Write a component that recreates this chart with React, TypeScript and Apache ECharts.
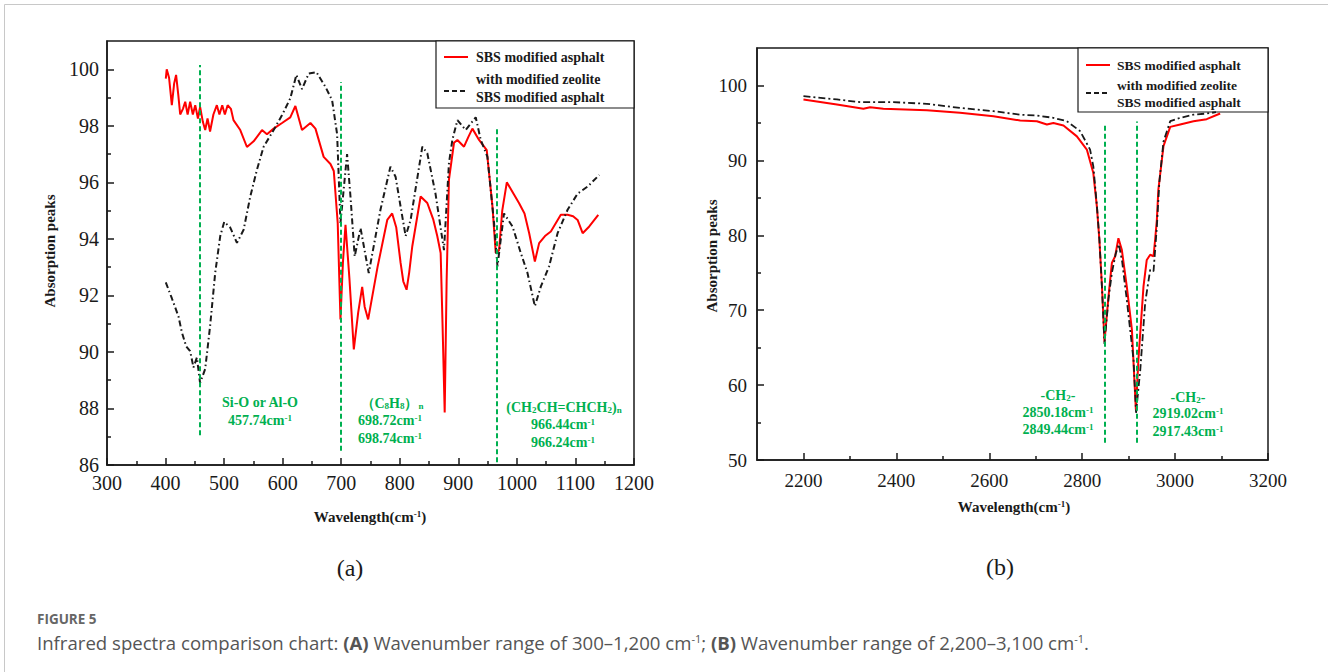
import React, { useEffect, useRef } from 'react';
import * as echarts from 'echarts';

// ---------- data ----------
const NAME_A = 'SBS modified asphalt';
const NAME_B = 'with modified zeolite SBS modified asphalt';

// (a) 300–1200 cm-1
const LEFT_RED: [number, number][] = [
  [400.4, 99.67], [402, 100.0], [406, 99.7], [410.7, 98.73], [414.7, 99.5], [418, 99.8], [421.7, 99.1],
  [425, 98.4], [429.7, 98.6], [433.6, 98.85], [437.7, 98.4], [442, 98.85], [446.6, 98.4], [450.7, 98.73],
  [455.3, 98.26], [459, 98.67], [463.7, 98.14], [467.7, 97.85], [471.7, 98.26], [476, 97.8], [481.7, 98.4],
  [487.6, 98.73], [492, 98.4], [496.8, 98.73], [501.3, 98.4], [506, 98.73], [511.6, 98.6], [516, 98.2],
  [527.6, 97.85], [539, 97.25], [550.4, 97.45], [564.7, 97.85], [573.2, 97.7], [584.6, 97.9], [598.9, 98.1],
  [613, 98.3], [621.7, 98.7], [633, 97.85], [647.4, 98.1], [656, 97.9], [670, 96.9], [681.6, 96.65],
  [687.3, 96.4], [694, 94.56], [698.7, 91.15], [703, 93.2], [707.3, 94.5], [714, 92.6], [721.5, 90.09],
  [729, 91.4], [735.8, 92.3], [740, 91.6], [746, 91.15], [762, 93.0], [778.6, 94.67], [787, 94.9],
  [794, 94.4], [801.4, 93.15], [806, 92.5], [811.6, 92.2], [816, 92.8], [821.3, 93.73], [835.6, 95.5],
  [847, 95.27], [857, 94.7], [864, 94.1], [869.8, 93.5], [873, 91.0], [876.7, 87.86], [880, 92.5],
  [884, 96.1], [892.6, 97.4], [898.4, 97.5], [909.7, 97.26], [917, 97.6], [924, 97.9], [935.4, 97.5],
  [948.5, 97.14], [958.3, 95.14], [963.9, 93.5], [969.6, 93.6], [975, 95.0], [982.8, 96.0], [995.3, 95.56],
  [1003.8, 95.26], [1013, 94.9], [1021, 94.2], [1030.7, 93.2], [1038, 93.85], [1048, 94.1], [1058, 94.26],
  [1075, 94.85], [1086.6, 94.85], [1096, 94.8], [1103.7, 94.67], [1112.3, 94.2], [1123.6, 94.44], [1139, 94.85],
];

const LEFT_BLACK: [number, number][] = [
  [400.4, 92.46], [410.7, 91.9], [422, 91.26], [427.8, 90.7], [435.2, 90.2], [442, 90.03], [447.7, 89.45],
  [453.5, 89.8], [459, 88.9], [467.7, 89.4], [476, 90.9], [484.8, 92.8], [493.4, 94.1], [500.2, 94.6],
  [510.5, 94.4], [521.9, 93.86], [533.3, 94.32], [544.7, 95.5], [556, 96.44], [567.5, 97.26], [584.6, 97.85],
  [599, 98.38], [613, 98.97], [623.4, 99.8], [633, 99.3], [644.5, 99.85], [657.6, 99.9], [673, 99.38],
  [684.5, 98.9], [693, 97.7], [698.7, 94.56], [710, 97.0], [715.8, 95.5], [723, 93.38], [733, 94.38],
  [747, 92.79], [767, 95.03], [784, 96.55], [792.8, 96.2], [801.4, 95.14], [810, 94.1], [818.5, 94.67],
  [838.5, 97.26], [847, 97.03], [861, 95.6], [875.5, 93.6], [884, 96.68], [889.8, 97.5], [898.4, 98.2],
  [912.6, 97.85], [929.7, 98.3], [938.3, 97.5], [949.7, 96.9], [961, 94.56], [966.8, 93.03], [978, 94.9],
  [992.5, 94.44], [1006.7, 93.5], [1018, 92.8], [1030.7, 91.62], [1041, 92.32], [1055, 93.03], [1069.5, 94.2],
  [1086.6, 95.03], [1103.7, 95.6], [1120.8, 95.85], [1140.7, 96.26],
];

// (b) 2200–3100 cm-1
const RIGHT_RED: [number, number][] = [
  [2200, 98.13], [2272, 97.46], [2329, 96.88], [2343.6, 97.1], [2372, 96.88], [2465.6, 96.7], [2537, 96.35],
  [2609, 95.9], [2666.5, 95.32], [2702.5, 95.23], [2724, 94.79], [2738, 95.0], [2759.7, 94.65], [2788.6, 93.2],
  [2810, 91.44], [2824, 88.3], [2831.6, 83.86], [2837, 79.4], [2842.6, 73.17], [2848, 65.8], [2856.6, 71.8],
  [2863.9, 76.3], [2871, 77.2], [2878, 79.6], [2885.3, 78.07], [2896, 73.17], [2907, 67.4], [2915.6, 56.7],
  [2921, 63.37], [2932, 73.17], [2939, 76.7], [2946.4, 77.4], [2953.6, 77.2], [2957, 79.4], [2960.8, 82.1],
  [2964, 86.1], [2975, 91.9], [2989.5, 94.47], [3011, 94.8], [3039.6, 95.23], [3068, 95.5], [3097, 96.25],
];

const RIGHT_BLACK: [number, number][] = [
  [2200, 98.57], [2272, 98.13], [2322, 97.77], [2393.6, 97.77], [2465.6, 97.55], [2537, 97.0], [2609, 96.57],
  [2666.5, 96.1], [2702.5, 95.99], [2738, 95.68], [2767, 95.23], [2795.6, 93.9], [2817, 91.44], [2824, 89.2],
  [2831.6, 84.0], [2837, 79.5], [2842.6, 73.0], [2848, 65.5], [2856.6, 71.5], [2864, 75.0], [2872, 77.5],
  [2879, 78.8], [2886, 76.5], [2896, 71.4], [2910.5, 63.4], [2916, 56.3], [2925, 62.0], [2935.6, 71.0],
  [2946.4, 75.4], [2953.6, 75.2], [2960.8, 81.2], [2966, 87.0], [2975, 92.5], [2989.5, 95.23], [3011, 95.68],
  [3039.6, 96.1], [3068, 96.25], [3088, 96.43],
];

// axis ticks
const LEFT_X_LABELS = [300, 400, 500, 600, 700, 800, 900, 1000, 1100, 1200];
const LEFT_X_MINOR = [350, 450, 550, 650, 750, 850, 950, 1050, 1150];
const LEFT_Y_LABELS = [86, 88, 90, 92, 94, 96, 98, 100];
const LEFT_Y_MINOR = [87, 89, 91, 93, 95, 97, 99];
const RIGHT_X_LABELS = [2200, 2400, 2600, 2800, 3000, 3200];
const RIGHT_X_MINOR = [2300, 2500, 2700, 2900, 3100];
const RIGHT_Y_LABELS = [50, 60, 70, 80, 90, 100];
const RIGHT_Y_MINOR = [55, 65, 75, 85, 95];

// characteristic peak marker lines: [wavenumber, from, to]
const LEFT_MARKERS: [number, number, number][] = [
  [457.74, 87.05, 100.15], [698.72, 86.5, 99.55], [966.44, 86.1, 97.95],
];
const RIGHT_MARKERS: [number, number, number][] = [
  [2849.44, 52.3, 95.0], [2917.43, 52.3, 95.2],
];

// ---------- styles ----------
const SERIF = 'Liberation Serif';
const SANS = 'Open Sans';
const INK = '#1a1a1a';
const RED = '#ff0000';
const GREEN = '#00b050';

const axisLineStyle = { color: INK, width: 1.5 };

function majorAxis(grid: number, min: number, max: number, interval: number, labels: number[], pos: string, size: number, margin: number) {
  return {
    gridIndex: grid, type: 'value', min, max, interval, position: pos,
    axisLine: { show: true, onZero: false, lineStyle: axisLineStyle },
    axisTick: { show: true, inside: true, length: 7, customValues: labels, lineStyle: axisLineStyle },
    axisLabel: {
      margin, fontFamily: SERIF, fontSize: size, color: INK, showMaxLabel: labels.includes(max),
      formatter: (v: number) => (labels.includes(v) ? String(v) : ''),
    },
    splitLine: { show: false },
  };
}
function minorAxis(grid: number, min: number, max: number, ticks: number[], pos: string) {
  return {
    gridIndex: grid, type: 'value', min, max, position: pos,
    axisLine: { show: false, onZero: false },
    axisTick: { show: true, inside: true, length: 4, customValues: ticks, lineStyle: axisLineStyle },
    axisLabel: { show: false },
    splitLine: { show: false },
  };
}

function markers(list: [number, number, number][]) {
  return {
    silent: true,
    symbol: ['none', 'none'],
    label: { show: false },
    lineStyle: { color: GREEN, type: [5, 3], width: 2 },
    data: list.map(([x, a, b]) => [{ coord: [x, a] }, { coord: [x, b] }]),
  };
}

type Tok = [string, string];
const rt = (toks: Tok[]) => toks.map(([k, s]) => `{${k}|${s}}`).join('');
const annRich = {
  t: { fontSize: 14, fontWeight: 'bold', fontFamily: SERIF, fill: GREEN },
  s: { fontSize: 9, fontWeight: 'bold', fontFamily: SERIF, fill: GREEN, verticalAlign: 'top' },
  d: { fontSize: 9, fontWeight: 'bold', fontFamily: SERIF, fill: GREEN, verticalAlign: 'bottom' },
};
function ann(x: number, y: number, toks: Tok[]) {
  return {
    type: 'text', x, y, z: 50,
    style: { text: rt(toks), rich: annRich, align: 'center', verticalAlign: 'middle' },
  };
}
function txt(x: number, y: number, text: string, font: any, extra: any = {}) {
  return { type: 'text', x, y, z: 50, ...extra, style: { text, align: 'center', verticalAlign: 'middle', fill: INK, ...font } };
}

function legend(x: number, y: number, w: number, h: number, size: number, rows: number[], iconY: number[], textX: number) {
  const font = { fontFamily: SERIF, fontWeight: 'bold', fontSize: size, fill: INK };
  return {
    type: 'group', z: 60,
    children: [
      { type: 'rect', shape: { x, y, width: w, height: h }, style: { fill: '#fff', stroke: INK, lineWidth: 1.2 } },
      { type: 'line', shape: { x1: x + 8, y1: iconY[0], x2: x + 32, y2: iconY[0] }, style: { stroke: RED, lineWidth: 2 } },
      { type: 'line', shape: { x1: x + 8, y1: iconY[1], x2: x + 31, y2: iconY[1] }, style: { stroke: INK, lineWidth: 2, lineDash: [5, 3] } },
      { type: 'text', x: textX, y: rows[0], style: { text: 'SBS modified asphalt', verticalAlign: 'middle', ...font } },
      { type: 'text', x: textX, y: rows[1], style: { text: 'with modified zeolite', verticalAlign: 'middle', ...font } },
      { type: 'text', x: textX, y: rows[2], style: { text: 'SBS modified asphalt', verticalAlign: 'middle', ...font } },
    ],
  };
}

export default function App() {
  const ref = useRef<HTMLDivElement>(null);
  useEffect(() => {
    if (!ref.current) return;
    const chart = echarts.init(ref.current, null, { renderer: 'svg' });
    const axisTitle = { fontFamily: SERIF, fontWeight: 'bold', fontSize: 15 };
    const capRich = {
      n: { fontSize: 18.6, fontFamily: SANS, fill: '#555' },
      b: { fontSize: 18.6, fontFamily: SANS, fill: '#555', fontWeight: 'bold' },
      s: { fontSize: 11, fontFamily: SANS, fill: '#555', verticalAlign: 'top' },
    };
    chart.setOption({
      animation: false,
      backgroundColor: '#fff',
      textStyle: { fontFamily: SERIF },
      grid: [
        { left: 107, top: 41, width: 527, height: 424, show: true, borderColor: INK, borderWidth: 1.5 },
        { left: 757, top: 48, width: 511, height: 412, show: true, borderColor: INK, borderWidth: 1.5 },
      ],
      xAxis: [
        majorAxis(0, 300, 1200, 100, LEFT_X_LABELS, 'bottom', 20, 8),
        minorAxis(0, 300, 1200, LEFT_X_MINOR, 'bottom'),
        majorAxis(1, 2100, 3200, 100, RIGHT_X_LABELS, 'bottom', 19, 11),
        minorAxis(1, 2100, 3200, RIGHT_X_MINOR, 'bottom'),
      ],
      yAxis: [
        majorAxis(0, 86, 101, 2, LEFT_Y_LABELS, 'left', 20, 8),
        minorAxis(0, 86, 101, LEFT_Y_MINOR, 'left'),
        majorAxis(1, 50, 105, 10, RIGHT_Y_LABELS, 'left', 19, 10),
        minorAxis(1, 50, 105, RIGHT_Y_MINOR, 'left'),
      ],
      series: [
        {
          type: 'line', name: NAME_A, xAxisIndex: 0, yAxisIndex: 0, data: LEFT_RED, showSymbol: false, symbol: 'none',
          lineStyle: { color: RED, width: 2 }, itemStyle: { color: RED }, markLine: markers(LEFT_MARKERS),
        },
        {
          type: 'line', name: NAME_B, xAxisIndex: 0, yAxisIndex: 0, data: LEFT_BLACK, showSymbol: false, symbol: 'none',
          lineStyle: { color: INK, width: 2, type: [6, 3, 1.5, 3] }, itemStyle: { color: INK },
        },
        {
          type: 'line', name: NAME_A, xAxisIndex: 2, yAxisIndex: 2, data: RIGHT_RED, showSymbol: false, symbol: 'none',
          lineStyle: { color: RED, width: 2 }, itemStyle: { color: RED }, markLine: markers(RIGHT_MARKERS),
        },
        {
          type: 'line', name: NAME_B, xAxisIndex: 2, yAxisIndex: 2, data: RIGHT_BLACK, showSymbol: false, symbol: 'none',
          lineStyle: { color: INK, width: 1.8, type: [7, 3, 2, 3] }, itemStyle: { color: INK },
        },
      ],
      graphic: [
        { type: 'rect', z: 0, shape: { x: 4.5, y: 4.5, width: 1400, height: 700 }, style: { fill: 'none', stroke: '#c8c8c8', lineWidth: 1 } },
        legend(436, 41, 198, 67, 14, [57, 79, 97], [57, 91], 476),
        legend(1078, 48, 190, 64, 13.5, [65, 85, 102], [65, 93], 1117),
        // annotations (a)
        ann(260, 402, [['t', 'Si-O or Al-O']]),
        ann(260, 420, [['t', '457.74cm'], ['s', '-1']]),
        ann(392, 403, [['t', '（C'], ['d', '8'], ['t', 'H'], ['d', '8'], ['t', '）'], ['d', 'n']]),
        ann(390, 420, [['t', '698.72cm'], ['s', '-1']]),
        ann(390, 438, [['t', '698.74cm'], ['s', '-1']]),
        ann(564, 407, [['t', '(CH'], ['d', '2'], ['t', 'CH=CHCH'], ['d', '2'], ['t', ')'], ['d', 'n']]),
        ann(563, 424, [['t', '966.44cm'], ['s', '-1']]),
        ann(563, 442, [['t', '966.24cm'], ['s', '-1']]),
        // annotations (b)
        ann(1058, 395, [['t', '-CH'], ['d', '2'], ['t', '-']]),
        ann(1058, 412, [['t', '2850.18cm'], ['s', '-1']]),
        ann(1058, 429, [['t', '2849.44cm'], ['s', '-1']]),
        ann(1188, 397, [['t', '-CH'], ['d', '2'], ['t', '-']]),
        ann(1188, 413, [['t', '2919.02cm'], ['s', '-1']]),
        ann(1188, 431, [['t', '2917.43cm'], ['s', '-1']]),
        // axis titles
        txt(50, 251, 'Absorption peaks', axisTitle, { rotation: Math.PI / 2 }),
        txt(712, 256, 'Absorption peaks', axisTitle, { rotation: Math.PI / 2 }),
        {
          type: 'text', x: 370, y: 517, z: 50,
          style: { text: '{t|Wavelength(cm}{s|-1}{t|)}', align: 'center', verticalAlign: 'middle',
            rich: { t: { ...axisTitle, fill: INK }, s: { fontFamily: SERIF, fontWeight: 'bold', fontSize: 9, fill: INK, verticalAlign: 'top' } } },
        },
        {
          type: 'text', x: 1014, y: 507, z: 50,
          style: { text: '{t|Wavelength(cm}{s|-1}{t|)}', align: 'center', verticalAlign: 'middle',
            rich: { t: { ...axisTitle, fill: INK }, s: { fontFamily: SERIF, fontWeight: 'bold', fontSize: 9, fill: INK, verticalAlign: 'top' } } },
        },
        // panel letters
        txt(350, 568, '(a)', { fontFamily: SERIF, fontSize: 24 }),
        txt(1000, 567, '(b)', { fontFamily: SERIF, fontSize: 24 }),
        // caption
        { type: 'text', x: 37, y: 619, z: 50, style: { text: 'FIGURE 5', fontFamily: SANS, fontWeight: 'bold', fontSize: 13.5, fill: '#666', verticalAlign: 'middle' } },
        {
          type: 'text', x: 37, y: 642, z: 50,
          style: {
            text: '{n|Infrared spectra comparison chart: }{b|(A)}{n| Wavenumber range of 300–1,200 cm}{s|-1}{n|; }{b|(B)}{n| Wavenumber range of 2,200–3,100 cm}{s|-1}{n|.}',
            rich: capRich, verticalAlign: 'middle',
          },
        },
      ],
    });
    return () => chart.dispose();
  }, []);
  return <div ref={ref} style={{ position: 'absolute', left: 0, top: 0, width: 1328, height: 672 }} />;
}
